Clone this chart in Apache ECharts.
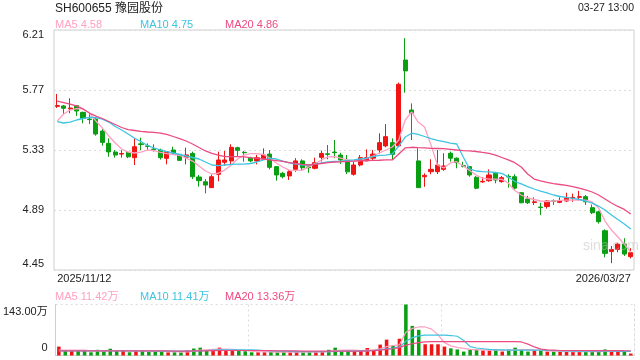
<!DOCTYPE html>
<html><head><meta charset="utf-8">
<script src="https://cdn.jsdelivr.net/npm/echarts@6/dist/echarts.min.js"></script>
<style>html,body{margin:0;padding:0;background:#fff}#c{width:640px;height:360px}</style>
</head><body><div id="c"></div>
<script>
const titleText = 'SH600655 豫园股份';
const timeText = '03-27 13:00';
const xLabels = ['2025/11/12', '2026/03/27'];
const watermark = 'sina.com';

const openP = [5.650,5.653,5.632,5.655,5.606,5.557,5.557,5.469,5.379,5.315,
5.300,5.313,5.274,5.375,5.360,5.337,5.330,5.269,5.330,5.298,
5.277,5.305,5.132,5.097,5.054,5.152,5.240,5.250,5.347,5.313,
5.270,5.250,5.264,5.300,5.208,5.159,5.140,5.188,5.250,5.206,
5.196,5.276,5.302,5.315,5.293,5.244,5.152,5.220,5.250,5.270,
5.330,5.360,5.384,5.360,5.990,5.623,5.250,5.134,5.171,5.171,
5.188,5.306,5.270,5.215,5.208,5.130,5.096,5.105,5.159,5.098,
5.137,5.134,5.017,4.970,4.945,4.912,4.915,4.957,4.946,4.956,
4.978,4.983,4.988,4.907,4.877,4.738,4.585,4.600,4.640,4.548];
const closeP = [5.656,5.636,5.638,5.616,5.562,5.553,5.447,5.386,5.316,5.293,
5.304,5.280,5.354,5.371,5.356,5.333,5.274,5.318,5.306,5.254,
5.294,5.134,5.105,5.073,5.134,5.257,5.257,5.350,5.328,5.310,
5.250,5.273,5.293,5.203,5.147,5.134,5.171,5.250,5.200,5.200,
5.237,5.305,5.298,5.310,5.257,5.170,5.220,5.274,5.274,5.300,
5.384,5.428,5.298,5.812,5.910,5.600,5.054,5.144,5.188,5.220,
5.213,5.270,5.237,5.210,5.147,5.050,5.100,5.147,5.110,5.127,
5.132,5.050,4.943,4.943,4.950,4.908,4.956,4.953,4.956,4.980,
4.982,4.988,4.950,4.870,4.804,4.572,4.600,4.640,4.567,4.577];
const lowP = [5.638,5.592,5.600,5.580,5.526,5.520,5.435,5.362,5.280,5.274,
5.274,5.270,5.220,5.330,5.328,5.318,5.260,5.225,5.293,5.250,
5.225,5.117,5.061,5.012,5.054,5.100,5.215,5.220,5.280,5.244,
5.240,5.225,5.257,5.188,5.105,5.122,5.110,5.170,5.183,5.163,
5.188,5.245,5.262,5.270,5.227,5.154,5.142,5.210,5.250,5.257,
5.306,5.350,5.257,5.360,5.750,5.403,5.054,5.060,5.152,5.154,
5.178,5.245,5.196,5.203,5.134,5.042,5.090,5.097,5.086,5.090,
5.054,5.030,4.940,4.934,4.927,4.853,4.900,4.927,4.940,4.950,
4.950,4.963,4.927,4.860,4.790,4.543,4.500,4.580,4.553,4.535];
const highP = [5.741,5.660,5.709,5.660,5.611,5.592,5.563,5.490,5.415,5.330,
5.328,5.320,5.415,5.420,5.379,5.372,5.340,5.323,5.354,5.300,
5.347,5.318,5.147,5.117,5.150,5.318,5.323,5.372,5.354,5.323,
5.280,5.294,5.342,5.330,5.213,5.170,5.183,5.270,5.262,5.220,
5.274,5.325,5.367,5.403,5.310,5.293,5.244,5.293,5.335,5.330,
5.452,5.520,5.415,5.824,6.150,5.672,5.343,5.159,5.262,5.330,
5.306,5.318,5.276,5.244,5.213,5.139,5.130,5.188,5.170,5.139,
5.152,5.152,5.020,4.993,4.983,4.943,4.960,4.968,4.983,5.017,
5.010,5.030,5.000,4.930,4.885,4.748,4.626,4.650,4.683,4.610];

const ma5 = [5.543,5.594,5.623,5.634,5.631,5.601,5.543,5.491,5.433,5.381,
5.337,5.315,5.308,5.315,5.330,5.326,5.312,5.304,5.297,5.290,
5.271,5.249,5.213,5.176,5.154,5.161,5.183,5.220,5.264,5.293,
5.304,5.304,5.297,5.271,5.235,5.205,5.183,5.180,5.183,5.205,
5.231,5.257,5.279,5.282,5.271,5.257,5.249,5.253,5.268,5.286,
5.308,5.330,5.352,5.403,5.550,5.609,5.535,5.499,5.367,5.220,
5.198,5.235,5.244,5.213,5.180,5.147,5.123,5.117,5.117,5.115,
5.088,5.033,5.000,4.978,4.967,4.956,4.951,4.956,4.960,4.963,
4.963,4.963,4.963,4.949,4.905,4.809,4.743,4.692,4.640,4.580];
const ma10 = [5.538,5.528,5.535,5.550,5.561,5.570,5.568,5.557,5.535,5.502,
5.477,5.447,5.416,5.392,5.363,5.345,5.330,5.318,5.308,5.297,
5.286,5.275,5.264,5.242,5.220,5.216,5.220,5.224,5.227,5.227,
5.231,5.242,5.257,5.269,5.264,5.249,5.235,5.227,5.220,5.220,
5.227,5.235,5.242,5.246,5.249,5.253,5.257,5.264,5.271,5.282,
5.290,5.293,5.301,5.359,5.425,5.453,5.444,5.429,5.414,5.400,
5.391,5.381,5.374,5.279,5.191,5.176,5.172,5.169,5.165,5.159,
5.132,5.099,5.081,5.062,5.044,5.029,5.015,5.000,4.989,4.982,
4.976,4.967,4.956,4.941,4.919,4.890,4.853,4.820,4.787,4.750];
const ma20 = [5.689,5.678,5.667,5.653,5.631,5.601,5.579,5.561,5.539,5.517,
5.495,5.480,5.473,5.466,5.462,5.459,5.453,5.444,5.429,5.414,
5.396,5.374,5.348,5.323,5.306,5.293,5.282,5.281,5.281,5.279,
5.274,5.269,5.264,5.257,5.252,5.246,5.238,5.231,5.224,5.220,
5.224,5.231,5.238,5.242,5.244,5.247,5.249,5.252,5.253,5.254,
5.255,5.257,5.257,5.301,5.345,5.350,5.347,5.345,5.342,5.341,
5.340,5.335,5.330,5.326,5.323,5.319,5.312,5.306,5.293,5.275,
5.257,5.237,5.205,5.154,5.117,5.103,5.092,5.084,5.077,5.070,
5.061,5.051,5.037,5.022,5.000,4.971,4.941,4.916,4.894,4.860];

const volume = [25,13,12.5,12.5,12.5,9,16,12.5,19,12.5,
12.5,9,12.5,12.5,10,12.5,10,9,9,8.5,
14,19.5,22,12.5,12.5,22,12.5,12.5,12.5,12,
9,9,9,10,9,10,9,10,9,10,
10,10,16,22,11,14,13,13,21,16,
30.5,44.5,28,47,143,83,72,31.5,31.5,31.5,
25,20,17,11,17,17,14,14,17,11,
17,22,17,11,14,14,11,11,11,11,
11,11,11,11,11,17,11,11,11,5.5];
const vma5 = [15,15,15,15,15,13,13,12,14,14,
14,13,13,13,12,12,11.5,11,10.5,10,
10,12,15,16,17,18,18,17,15,14,
12,11,10.5,10,9.5,9.5,9.5,9.5,9.5,9.5,
9.5,10,11,14,15,15,15,14,15,15,
19,25,28,30,65,76,80,80,74,58,
36,27,23,20,17,16,15.5,15,15,14.5,
14.5,16,16,16.5,16,14,13,12,12,11.5,
11,11,11,11,11,12,12,12,12,11.42];
const vma10 = [13,13,13,13,13,13,13,13,13,13,
13,13,13,13,13,12.5,12.5,12,12,12,
12,12.5,13,14,15,16,16,16,16,16,
16,15,14,13,12.5,12,11.5,11,11,11,
11,11,11,11.5,12,12.5,12.5,13,13,14,
16,19,21,24,40,50,55,57,57,57,
57,56,54,42,25,21,19,17,16,16,
15,15,15,15,15,15,14,14,13,13,
12.5,12,12,12,12,12,12,11.5,11.5,11.41];
const vma20 = [13,13,13,13,13,13,13,13,13,13,
13,13,13,13,13,13,13,13,12.5,12.5,
12.5,13,13,13,13.5,14,14,14,14,14,
14,14,13.5,13.5,13,13,13,13,12.5,12.5,
12.5,12.5,12.5,12.5,12.5,12.5,12.5,12.5,13,13.5,
15,17,19,22,29,33,36,38,39,39,
39,39,39,39,39,39,39,39,39,39,
39,39,38,32,24,18,16,15,14,14,
14,14,14,13.5,13.5,13.5,13.5,13.5,13.4,13.36];

const UP = '#f01414', DOWN = '#0a9e12';
const C5 = '#ffa0c0', C10 = '#3ec4e2', C20 = '#ec4a82';
const FONT = '"Liberation Sans", Arial, "Noto Sans CJK SC", sans-serif';
const N = closeP.length;
const categories = closeP.map((_, i) => {
  if (i === 0) return { value: String(i), textStyle: { align: 'left' } };
  if (i === N - 1) return { value: String(i), textStyle: { align: 'right' } };
  return String(i);
});
const candles = closeP.map((c, i) => [openP[i], c, lowP[i], highP[i]]);
const volBars = volume.map((v, i) => ({ value: v, itemStyle: { color: closeP[i] >= openP[i] ? UP : DOWN } }));
const priceMin = 4.45, priceMax = 6.21, priceStep = 0.44;
const volMax = Math.max(...volume);
const last = a => a[a.length - 1];

const chart = echarts.init(document.getElementById('c'));
const dotted = { color: '#dcdcdc', type: [2, 3], width: 1 };
function txt(x, y, s, color, size) {
  return { type: 'text', left: x, top: y, style: { text: s, fill: color, font: size + 'px ' + FONT } };
}
chart.setOption({
  animation: false,
  textStyle: { fontFamily: FONT },
  grid: [
    { left: 54, top: 30, width: 580, height: 240, show: true, borderColor: '#cfcfcf', borderWidth: 1 },
    { left: 54, top: 304.5, width: 580, height: 51 }
  ],
  xAxis: [
    { type: 'category', gridIndex: 0, data: categories, boundaryGap: true,
      axisLine: { show: false }, axisTick: { show: false }, splitLine: { show: false },
      axisLabel: { interval: (idx) => idx === 0 || idx === N - 1, color: '#222', fontSize: 11, margin: 3,
        formatter: (v) => v === '0' ? xLabels[0] : xLabels[1] } },
    { type: 'category', gridIndex: 1, data: categories.map(c => typeof c === 'string' ? c : c.value), boundaryGap: true,
      axisLine: { show: true, lineStyle: { color: '#cfcfcf' } }, axisTick: { show: false }, axisLabel: { show: false },
      splitLine: { show: true, interval: 29, lineStyle: dotted } }
  ],
  yAxis: [
    { type: 'value', gridIndex: 0, min: priceMin, max: priceMax, interval: priceStep, scale: true,
      axisLine: { show: false }, axisTick: { show: false }, splitLine: { lineStyle: dotted },
      axisLabel: { color: '#222', fontSize: 11, margin: 10,
        formatter: (v) => {
          const s = v.toFixed(2);
          if (Math.abs(v - priceMax) < 1e-6) return '{t|' + s + '}';
          if (Math.abs(v - priceMin) < 1e-6) return '{b|' + s + '}';
          return s;
        },
        rich: { t: { padding: [10, 0, 0, 0], fontSize: 11, color: '#222' }, b: { padding: [0, 0, 12, 0], fontSize: 11, color: '#222' } } } },
    { type: 'value', gridIndex: 1, min: 0, max: volMax, interval: volMax,
      axisLine: { show: true, lineStyle: { color: '#cfcfcf' } }, axisTick: { show: false },
      splitLine: { show: true, lineStyle: dotted },
      axisLabel: { color: '#222', fontSize: 11, margin: 8,
        formatter: (v) => v === 0 ? '{b|0}' : '{t|' + v.toFixed(2) + '万}',
        rich: { t: { padding: [15, 0, 0, 0], fontSize: 11, color: '#222' }, b: { padding: [0, 0, 15, 0], fontSize: 11, color: '#222' } } } },
    { type: 'value', gridIndex: 1, position: 'right', min: 0, max: volMax, interval: volMax,
      axisLine: { show: true, lineStyle: dotted }, axisTick: { show: false }, axisLabel: { show: false }, splitLine: { show: false } }
  ],
  series: [
    { type: 'candlestick', xAxisIndex: 0, yAxisIndex: 0, data: candles, barWidth: '70%',
      itemStyle: { color: UP, color0: DOWN, borderColor: UP, borderColor0: DOWN, borderWidth: 1 } },
    { type: 'line', xAxisIndex: 0, yAxisIndex: 0, data: ma5, symbol: 'none', lineStyle: { color: C5, width: 1.3 } },
    { type: 'line', xAxisIndex: 0, yAxisIndex: 0, data: ma10, symbol: 'none', lineStyle: { color: C10, width: 1.3 } },
    { type: 'line', xAxisIndex: 0, yAxisIndex: 0, data: ma20, symbol: 'none', lineStyle: { color: C20, width: 1.3 } },
    { type: 'bar', xAxisIndex: 1, yAxisIndex: 1, data: volBars, barWidth: '55%' },
    { type: 'line', xAxisIndex: 1, yAxisIndex: 1, data: vma5, symbol: 'none', lineStyle: { color: C5, width: 1.2 } },
    { type: 'line', xAxisIndex: 1, yAxisIndex: 1, data: vma10, symbol: 'none', lineStyle: { color: C10, width: 1.2 } },
    { type: 'line', xAxisIndex: 1, yAxisIndex: 1, data: vma20, symbol: 'none', lineStyle: { color: C20, width: 1.2 } }
  ],
  graphic: [
    txt(55, 3, titleText, '#222', 12),
    { type: 'text', right: 6, top: 3, style: { text: timeText, fill: '#222', font: '10.5px ' + FONT } },
    txt(55, 19, 'MA5 ' + last(ma5).toFixed(2), C5, 11),
    txt(140, 19, 'MA10 ' + last(ma10).toFixed(2), C10, 11),
    txt(225, 19, 'MA20 ' + last(ma20).toFixed(2), C20, 11),
    txt(55, 291, 'MA5 ' + last(vma5).toFixed(2) + '万', C5, 11),
    txt(140, 291, 'MA10 ' + last(vma10).toFixed(2) + '万', C10, 11),
    txt(225, 291, 'MA20 ' + last(vma20).toFixed(2) + '万', C20, 11),
    { type: 'text', left: 583, top: 239, z: 100, style: { text: watermark, fill: 'rgba(190,190,190,0.5)', font: '14px ' + FONT } }
  ]
});
</script></body></html>
